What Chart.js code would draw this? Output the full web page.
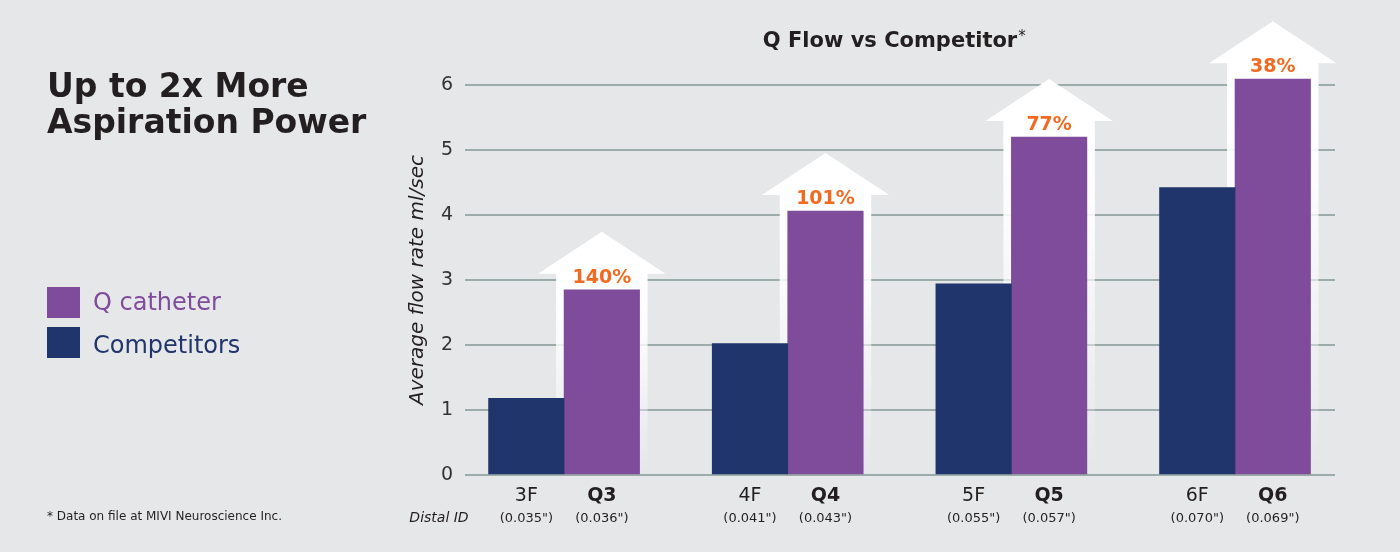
<!DOCTYPE html>
<html>
<head>
<meta charset="utf-8">
<script src="https://cdn.jsdelivr.net/npm/chart.js@4.4.1/dist/chart.umd.min.js"></script>
<style>
  html, body { margin: 0; padding: 0; background: #e6e7e9; }
  #wrap { width: 1400px; height: 552px; }
</style>
</head>
<body>
<div id="wrap"><canvas id="c" width="1400" height="552"></canvas></div>
<script>
// ---- data ----
const groupIndex = [0, 1, 2, 3];
const competitorNames = ['3F', '4F', '5F', '6F'];
const qNames = ['Q3', 'Q4', 'Q5', 'Q6'];
const competitorIDs = ['(0.035")', '(0.041")', '(0.055")', '(0.070")'];
const qIDs = ['(0.036")', '(0.043")', '(0.057")', '(0.069")'];
const competitorValues = [1.18, 2.02, 2.94, 4.42];
const qValues = [2.85, 4.06, 5.20, 6.09];
const gainLabels = ['140%', '101%', '77%', '38%'];
const yTicks = [0, 1, 2, 3, 4, 5, 6];

const NAVY = '#20356c';
const PURPLE = '#7f4c9c';
const ORANGE = '#f26a21';
const GRID = '#9cacaa';
const TEXT = '#231f20';
const FONT = "'DejaVu Sans', sans-serif";

const overlay = {
  id: 'overlay',
  beforeDatasetsDraw(chart) {
    const ctx = chart.ctx;
    const meta = chart.getDatasetMeta(1);
    meta.data.forEach((el) => {
      const L = el.x - el.width / 2, R = el.x + el.width / 2;
      const top = el.y, base = el.base;
      const headBase = top - 16, tip = top - 58;
      ctx.save();
      // head
      ctx.fillStyle = '#ffffff';
      ctx.beginPath();
      ctx.moveTo(el.x, tip);
      ctx.lineTo(R + 26, headBase);
      ctx.lineTo(L - 26, headBase);
      ctx.closePath();
      ctx.fill();
      // shaft with fade
      const g = ctx.createLinearGradient(0, headBase, 0, base);
      g.addColorStop(0, 'rgba(255,255,255,1)');
      g.addColorStop(0.3, 'rgba(255,255,255,0.85)');
      g.addColorStop(0.7, 'rgba(255,255,255,0.35)');
      g.addColorStop(1, 'rgba(255,255,255,0.0)');
      ctx.fillStyle = g;
      ctx.fillRect(L - 8, headBase - 0.5, (R - L) + 16, base - headBase + 0.5);
      ctx.restore();
    });
  },
  afterDatasetsDraw(chart) {
    const ctx = chart.ctx;
    const m0 = chart.getDatasetMeta(0), m1 = chart.getDatasetMeta(1);
    ctx.save();
    // gain labels
    ctx.fillStyle = ORANGE;
    ctx.textAlign = 'center';
    ctx.textBaseline = 'alphabetic';
    ctx.font = 'bold 19px ' + FONT;
    m1.data.forEach((el, i) => ctx.fillText(gainLabels[i], el.x, el.y - 7));
    // x labels
    ctx.fillStyle = TEXT;
    m0.data.forEach((el, i) => {
      ctx.font = '19px ' + FONT;
      ctx.fillText(competitorNames[i], el.x, 501);
      ctx.font = '13px ' + FONT;
      ctx.fillText(competitorIDs[i], el.x, 522);
    });
    m1.data.forEach((el, i) => {
      ctx.font = 'bold 19px ' + FONT;
      ctx.fillText(qNames[i], el.x, 501);
      ctx.font = '13px ' + FONT;
      ctx.fillText(qIDs[i], el.x, 522);
    });
    ctx.font = 'italic 14px ' + FONT;
    ctx.fillText('Distal ID', 439, 522);
    // chart title
    ctx.font = 'bold 21px ' + FONT;
    const tw = ctx.measureText('Q Flow vs Competitor').width;
    ctx.fillText('Q Flow vs Competitor', 890, 47);
    ctx.font = '15px ' + FONT;
    ctx.textAlign = 'left';
    ctx.fillText('*', 890 + tw / 2 + 1, 41);
    // left title
    ctx.font = 'bold 33px ' + FONT;
    ctx.fillText('Up to 2x More', 47, 97);
    ctx.fillText('Aspiration Power', 47, 133);
    // legend
    ctx.fillStyle = PURPLE;
    ctx.fillRect(47, 287, 33, 31);
    ctx.fillStyle = NAVY;
    ctx.fillRect(47, 327, 33, 31);
    ctx.font = '24px ' + FONT;
    ctx.fillStyle = PURPLE;
    ctx.fillText('Q catheter', 93, 310);
    ctx.fillStyle = NAVY;
    ctx.fillText('Competitors', 93, 353);
    // footnote
    ctx.fillStyle = TEXT;
    ctx.font = '12px ' + FONT;
    ctx.fillText('* Data on file at MIVI Neuroscience Inc.', 47, 520);
    ctx.restore();
  }
};

new Chart(document.getElementById('c'), {
  type: 'bar',
  data: {
    datasets: [
      {
        label: 'Competitors',
        data: groupIndex.map((x, i) => ({ x: x, y: competitorValues[i] })),
        backgroundColor: NAVY,
        barThickness: 75.5,
        borderWidth: 0,
        clip: false
      },
      {
        label: 'Q catheter',
        data: groupIndex.map((x, i) => ({ x: x, y: qValues[i] })),
        backgroundColor: PURPLE,
        barThickness: 75.5,
        borderWidth: 0,
        clip: false
      }
    ]
  },
  options: {
    responsive: false,
    animation: false,
    layout: { padding: { left: 406, right: 65, top: 85, bottom: 77 } },
    plugins: { legend: { display: false }, tooltip: { enabled: false }, title: { display: false } },
    scales: {
      x: {
        type: 'linear',
        display: false,
        offset: false,
        min: -0.443,
        max: 3.447,
        grid: { display: false, offset: false },
        ticks: { stepSize: 1, includeBounds: false }
      },
      y: {
        min: 0,
        max: 6,
        afterBuildTicks(scale) { scale.ticks = yTicks.map(v => ({ value: v })); },
        afterFit(scale) { scale.width = 59; },
        border: { display: false },
        grid: { color: GRID, lineWidth: 2, drawTicks: false },
        ticks: { color: '#333333', padding: 12, font: { family: FONT, size: 19 } },
        title: {
          display: true,
          text: 'Average flow rate ml/sec',
          color: TEXT,
          padding: 0,
          font: { family: FONT, size: 20, style: 'italic' }
        }
      }
    }
  },
  plugins: [overlay]
});
</script>
</body>
</html>
